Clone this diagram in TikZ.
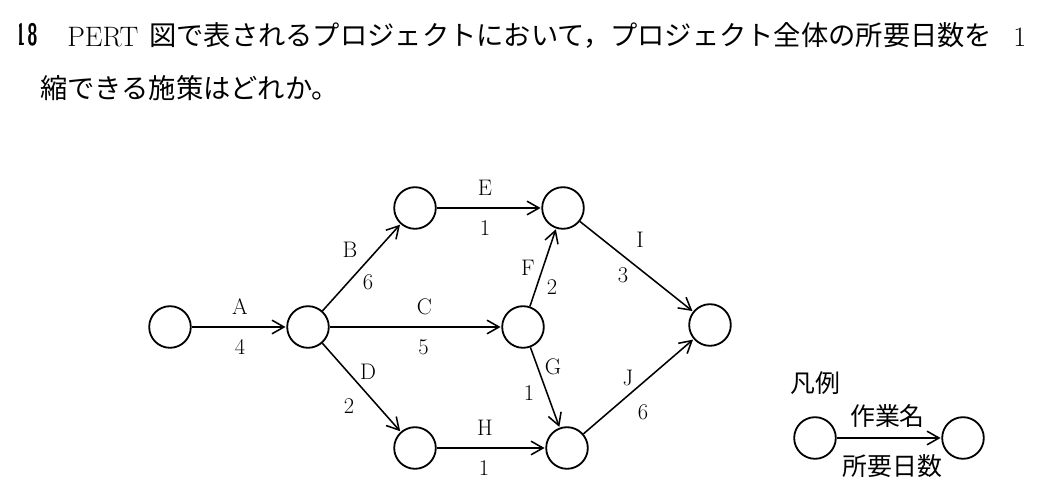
\documentclass[tikz,border=0pt]{standalone}
\usepackage{fontspec}
\usepackage{graphicx}
\usepackage{tikz}
\usetikzlibrary{arrows.meta, positioning}
\newfontfamily\jp{Noto Sans CJK JP}

\begin{document}
\begin{tikzpicture}[x=0.025cm, y=-0.025cm,
event/.style={circle, draw=black, line width=1.3pt, fill=white, minimum size=10.4mm, inner sep=0pt},
act/.style={-{Straight Barb[length=3mm, width=3.4mm]}, line width=1.1pt, shorten >=0.5pt},
lbl/.style={font=\fontsize{16}{19}\selectfont, inner sep=0pt},
jtxt/.style={font=\jp\fontsize{19.4}{23}\selectfont, inner sep=0pt},
num/.style={font=\fontsize{22}{26}\selectfont\sffamily\bfseries, inner sep=0pt},
key/.style={font=\jp\fontsize{17.7}{21}\selectfont, inner sep=0pt}
]
\useasboundingbox (0,0) rectangle (1042,503);
%Question
\begin{scope}
\clip (19,0) rectangle (60,70);
\node[num, anchor=base west] (qone) at (15,46) {\scalebox{0.6}[1]{1}};
\end{scope}
\node[num, anchor=base west] (qno)   at (27,46)   {\scalebox{0.6}[1]{8}};
\node[jtxt, anchor=base west] (pert)  at (67,47)   {\rmfamily\fontsize{20}{24}\selectfont PERT};
\node[jtxt, anchor=base west] (line1) at (149,46)  {図で表されるプロジェクトにおいて，プロジェクト全体の所要日数を};
\node[jtxt, anchor=base west] (one)   at (1013,47) {\rmfamily\fontsize{20}{24}\selectfont 1};
\node[jtxt, anchor=base west] (line2) at (40,99)   {縮できる施策はどれか。};
%Nodes
\node[event] (n1) at (170,327) {};
\node[event] (n2) at (308,327) {};
\node[event] (n3) at (415,208) {};
\node[event] (n4) at (563,208) {};
\node[event] (n5) at (523,327) {};
\node[event] (n8) at (415,448) {};
\node[event] (n6) at (567,448) {};
\node[event] (n7) at (710,325) {};
%Lines
\draw[act] (n1) -- (n2) node[lbl, midway, shift={(1,-20)}] {A} node[lbl, midway, shift={(1,20)}] {4};
\draw[act] (n2) -- (n3) node[lbl, midway, shift={(-11.5,-17.5)}] {B} node[lbl, midway, shift={(6.5,14.5)}] {6};
\draw[act] (n2) -- (n5) node[lbl, midway, shift={(9,-20)}] {C} node[lbl, midway, shift={(8,20)}] {5};
\draw[act] (n2) -- (n8) node[lbl, midway, shift={(6.5,-15.5)}] {D} node[lbl, midway, shift={(-12.5,18.5)}] {2};
\draw[act] (n3) -- (n4) node[lbl, midway, shift={(-4,-20)}] {E} node[lbl, midway, shift={(-4,20)}] {1};
\draw[act] (n5) -- (n4) node[lbl, midway, shift={(-15,0)}] {F} node[lbl, midway, shift={(9,19.5)}] {2};
\draw[act] (n5) -- (n6) node[lbl, midway, shift={(8,-20.5)}] {G} node[lbl, midway, shift={(-16,5.5)}] {1};
\draw[act] (n8) -- (n6) node[lbl, midway, shift={(-6,-20)}] {H} node[lbl, midway, shift={(-7,20)}] {1};
\draw[act] (n4) -- (n7) node[lbl, midway, shift={(3.5,-26.5)}] {I} node[lbl, midway, shift={(-13.5,8.5)}] {3};
\draw[act] (n6) -- (n7) node[lbl, midway, shift={(-10.5,-8.5)}] {J} node[lbl, midway, shift={(4.5,25.5)}] {6};
%Legend
\node[key] (legend) at (815,383) {凡例};
\node[event] (k1) at (815,438) {};
\node[event] (k2) at (963,438) {};
\draw[act] (k1) -- (k2) node[key, midway, shift={(-1.5,-22)}] {作業名}
                        node[key, midway, shift={(3.5,28)}] {所要日数};
\end{tikzpicture}
\end{document}
